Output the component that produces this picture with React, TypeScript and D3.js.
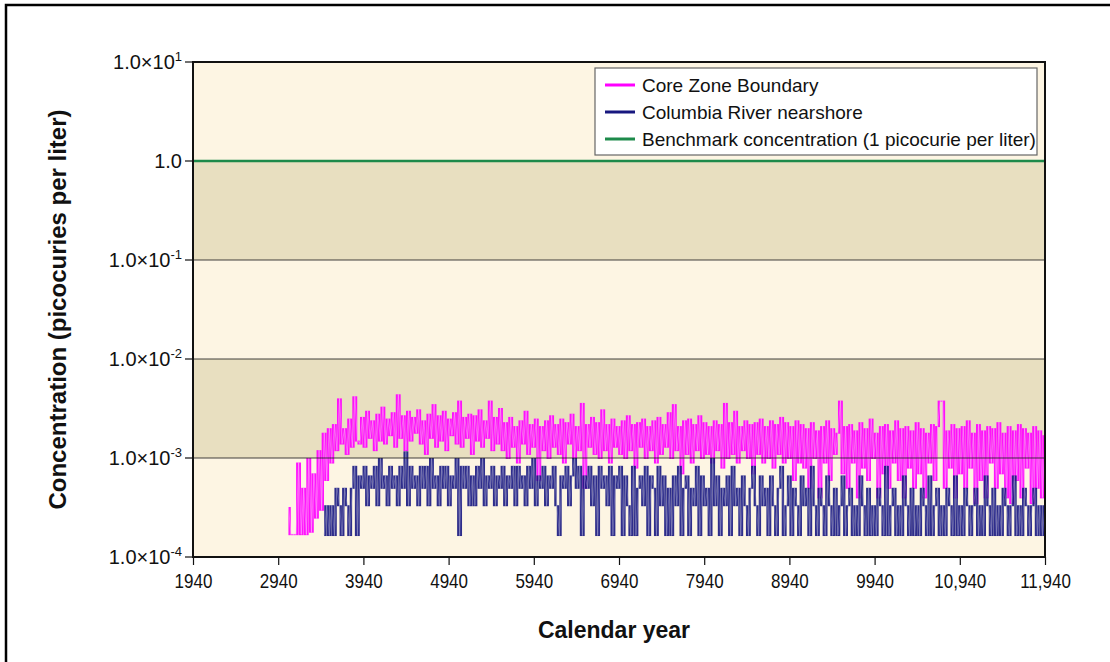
import { useEffect, useRef } from 'react'
import * as d3 from 'd3'

const W = 1110
const H = 662

// y axis (log) ticks and labels: [mantissa text, exponent]
const yTicks = [1e-4, 1e-3, 1e-2, 1e-1, 1, 10]
const yTickLabels = [
  ['1.0×10', '-4'],
  ['1.0×10', '-3'],
  ['1.0×10', '-2'],
  ['1.0×10', '-1'],
  ['1.0', ''],
  ['1.0×10', '1'],
]
const bandEdges = [1e-4, 1e-3, 1e-2, 1e-1, 1, 10]
const gridValues = [1e-3, 1e-2, 1e-1]
const benchmark = 1

const xTicks = [1940, 2940, 3940, 4940, 5940, 6940, 7940, 8940, 9940, 10940, 11940]
const xTickLabels = ['1940', '2940', '3940', '4940', '5940', '6940', '7940', '8940', '9940', '10,940', '11,940']

const seriesNames = [
  'Core Zone Boundary',
  'Columbia River nearshore',
  'Benchmark concentration (1 picocurie per liter)',
]

// Core Zone Boundary, sampled every 30 years from 3060, in units of 1e-4 pCi/L
const coreStart = 3060
const coreStep = 30
const coreValues = [
  3.2, 1.7, 1.7, 1.7, 9, 1.7, 5, 1.7, 10, 1.8, 7, 2.5, 12, 3, 18, 6, 20,
  9, 22, 12, 40, 14, 20, 11, 25, 13, 42, 15,
  14, 26, 13, 30, 16, 24, 12, 28, 15, 33, 14, 25, 17, 29, 13, 44, 16, 27, 12, 30,
  15, 26, 18, 31, 14, 24, 11, 28, 16, 35, 13, 27, 15, 30, 12, 25, 17, 29, 14, 38,
  13, 26, 16, 28, 11, 27, 15, 31, 13, 24, 16, 38, 12, 26, 14, 32,
  12, 23, 10, 26, 13, 21, 9, 24, 14, 30, 11, 22, 13, 25, 6, 21, 12, 24, 10, 27,
  13, 22, 11, 25, 9, 23, 14, 28, 10, 21, 12, 36, 5, 22, 13, 26, 11, 23, 10, 31,
  12, 22, 9, 25, 13, 21, 11, 24, 10, 27, 12, 22, 8, 23, 13, 25, 10, 21, 12, 24,
  9, 26, 11, 22, 13, 29, 10, 35, 12, 21, 7, 24, 11, 25, 9, 22, 12, 27, 10, 23,
  11, 21, 9, 24, 12, 22, 8, 36, 10, 23, 11, 30, 9, 21, 12, 24, 10, 22, 7, 23,
  11, 25, 9, 21, 10, 24, 8, 22, 11, 26, 9, 23, 10, 21, 6, 24, 9,
  22, 8, 20, 5, 23, 10, 19, 4, 21, 9, 24, 6, 20, 11, 18, 38, 7, 21, 5, 22,
  9, 19, 4, 23, 8, 20, 6, 25, 10, 18, 4, 21, 7, 22, 5, 19, 9, 24, 6, 20,
  4, 21, 8, 19, 5, 23, 7, 20, 4, 18, 9, 22, 6, 21, 38, 38, 5, 19, 8, 22,
  4, 20, 7, 21, 5, 24, 8, 18, 3.5, 22, 6, 19, 4, 21, 9, 20, 5, 23, 7, 18,
  4, 21, 3.5, 19, 6, 22, 4, 20, 8, 18, 3.5, 21, 5, 19, 4, 17,
]

// Columbia River nearshore, sampled every 30 years from 3480,
// in reporting steps of 1/6000 pCi/L
const riverStart = 3480
const riverStep = 30
const riverUnit = 1 / 6000
const riverLevels = [
  1, 2, 1, 2, 1, 3, 2, 1, 3, 2, 1, 3, 5, 1, 4,
  3, 5, 2, 4, 3, 5, 2, 6, 3, 4, 2, 5, 3, 4, 2, 5, 3, 7, 2, 5,
  3, 4, 2, 5, 3, 5, 2, 6, 3, 4, 2, 5, 3, 5, 2, 4, 3, 6, 1, 5,
  3, 5, 2, 4, 2, 5, 3, 6, 2, 4, 3, 5, 2, 4, 3, 5, 2, 4, 3, 5,
  2, 5, 3, 4, 2, 5, 3, 6, 2, 4, 3, 5, 2, 4, 3, 5, 2, 1, 4, 3,
  5, 2, 4, 6, 3, 5, 1, 4, 3, 5, 2, 4, 1, 5, 3, 4, 2, 5, 1, 4,
  3, 5, 1, 4, 2, 1, 5, 1, 3, 4, 2, 5, 1, 4, 3, 1, 5, 2, 4, 1,
  3, 1, 4, 2, 5, 1, 3, 4, 1, 3, 2, 5, 1, 4, 2, 3, 1, 6, 2, 4,
  1, 3, 2, 4, 1, 5, 2, 3, 1, 4, 2, 1, 3, 5, 2, 1, 4, 2, 3, 1,
  4, 2, 1, 3, 5, 1, 2, 4, 1, 3, 2, 1, 4, 2, 3, 1, 5, 2, 1, 3,
  2, 1, 4, 2, 1, 3, 1, 2, 4, 1, 2, 3, 1, 2, 1, 4, 2, 1, 3, 1,
  2, 1, 3, 2, 1, 5, 1, 2, 3, 1, 2, 1, 4, 2, 1, 3, 1, 2, 1, 3,
  2, 1, 4, 1, 2, 3, 1, 2, 1, 3, 2, 1, 4, 1, 2, 1, 3, 2, 1, 2,
  3, 1, 2, 1, 4, 2, 1, 3, 1, 2, 1, 3, 2, 1, 2, 4, 1, 2, 1, 3,
  2, 1, 2, 3, 1, 2, 1, 2,
]

const FONT = "'Liberation Sans', Arial, Helvetica, sans-serif"
const CREAM = '#fdf5e3'
const TAN = '#e8dfc0'
const MAGENTA = '#ff00ff'
const NAVY = '#17177f'
const GREEN = '#1d8a4a'

export default function App() {
  const svgRef = useRef<SVGSVGElement>(null)

  useEffect(() => {
    if (!svgRef.current) return
    const svg = d3.select(svgRef.current)
    svg.selectAll('*').remove()

    const margin = { top: 62, right: 65, bottom: 105, left: 193 }
    const x = d3.scaleLinear().domain([1940, 11940]).range([margin.left, W - margin.right])
    const y = d3.scaleLog().domain([1e-4, 10]).range([H - margin.bottom, margin.top])
    const [x0, x1] = x.range()
    const [yb, yt] = y.range()

    // outer page frame
    svg.append('rect')
      .attr('x', 6).attr('y', 5)
      .attr('width', W + 40).attr('height', H + 40)
      .attr('fill', 'none').attr('stroke', '#000').attr('stroke-width', 2.5)

    svg.append('defs').append('clipPath').attr('id', 'plot-clip')
      .append('rect')
      .attr('x', x0).attr('y', yt).attr('width', x1 - x0).attr('height', yb - yt)

    // alternating decade bands
    svg.append('g').selectAll('rect')
      .data(d3.pairs(bandEdges))
      .enter()
      .append('rect')
      .attr('x', x0)
      .attr('y', d => y(d[1]))
      .attr('width', x1 - x0)
      .attr('height', d => y(d[0]) - y(d[1]))
      .attr('fill', (_, i) => (i % 2 === 0 ? CREAM : TAN))

    const plot = svg.append('g').attr('clip-path', 'url(#plot-clip)')

    // dense series: the range swept between consecutive samples is shaded,
    // then the sample line is drawn over it in a paler tint for texture
    const drawSeries = (
      values: number[], start: number, step: number, unit: number,
      color: string, tint: string, fillOpacity: number
    ) => {
      const t = (i: number) => start + i * step
      const colW = (x(start + step) - x(start)) * 0.92
      plot.append('g').selectAll('rect')
        .data(d3.pairs(values))
        .enter()
        .append('rect')
        .attr('x', (_, i) => x(t(i)))
        .attr('width', colW)
        .attr('y', d => y(Math.max(d[0], d[1]) * unit))
        .attr('height', d => Math.abs(y(d[0] * unit) - y(d[1] * unit)) + 1)
        .attr('fill', color)
        .attr('fill-opacity', fillOpacity)

      const line = d3.line<number>()
        .x((_, i) => x(t(i)))
        .y(d => y(d * unit))
      plot.append('path')
        .datum(values)
        .attr('d', line)
        .attr('fill', 'none')
        .attr('stroke', tint)
        .attr('stroke-width', 0.6)
        .attr('stroke-opacity', 0.8)
    }

    drawSeries(coreValues, coreStart, coreStep, 1e-4, MAGENTA, '#ffa6ff', 0.92)
    drawSeries(riverLevels, riverStart, riverStep, riverUnit, NAVY, '#8c8cc8', 0.9)

    // decade grid lines
    svg.append('g').selectAll('line')
      .data(gridValues)
      .enter()
      .append('line')
      .attr('x1', x0).attr('x2', x1)
      .attr('y1', d => y(d)).attr('y2', d => y(d))
      .attr('stroke', '#222').attr('stroke-width', 1)
      .attr('stroke-opacity', 0.85)

    // benchmark
    svg.append('line')
      .attr('x1', x0).attr('x2', x1)
      .attr('y1', y(benchmark)).attr('y2', y(benchmark))
      .attr('stroke', GREEN).attr('stroke-width', 2.5)

    // plot frame
    svg.append('rect')
      .attr('x', x0).attr('y', yt)
      .attr('width', x1 - x0).attr('height', yb - yt)
      .attr('fill', 'none').attr('stroke', '#111').attr('stroke-width', 2)

    // y ticks and labels
    const yAxis = svg.append('g')
    yAxis.selectAll('line')
      .data(yTicks)
      .enter()
      .append('line')
      .attr('x1', x0 - 8).attr('x2', x0)
      .attr('y1', d => y(d)).attr('y2', d => y(d))
      .attr('stroke', '#111').attr('stroke-width', 1.2)

    const yLabel = yAxis.selectAll('text')
      .data(yTicks)
      .enter()
      .append('text')
      .attr('x', x0 - 11)
      .attr('y', d => y(d) + 7)
      .attr('text-anchor', 'end')
      .attr('font-family', FONT)
      .attr('font-size', 20)
      .attr('fill', '#111')
    yLabel.append('tspan').text((_, i) => yTickLabels[i][0])
    yLabel.append('tspan')
      .attr('dy', -8)
      .attr('font-size', 13)
      .text((_, i) => yTickLabels[i][1])

    // x axis
    const xAxis = d3.axisBottom(x)
      .tickValues(xTicks)
      .tickSize(8)
      .tickFormat((_, i) => xTickLabels[i])
    const gx = svg.append('g')
      .attr('transform', `translate(0,${yb})`)
      .call(xAxis as any)
    gx.select('.domain').remove()
    gx.selectAll('line').attr('stroke', '#111').attr('stroke-width', 1.2)
    gx.selectAll('text')
      .attr('y', 17)
      .attr('fill', '#111')
      .attr('font-family', FONT)
      .attr('font-size', 20)
      .attr('transform', 'scale(0.85,1)')

    // axis titles
    svg.append('text')
      .attr('transform', `translate(66,${(yt + yb) / 2}) rotate(-90)`)
      .attr('text-anchor', 'middle')
      .attr('font-family', FONT)
      .attr('font-weight', 'bold')
      .attr('font-size', 24)
      .attr('fill', '#111')
      .text('Concentration (picocuries per liter)')

    svg.append('text')
      .attr('x', 614)
      .attr('y', 638)
      .attr('text-anchor', 'middle')
      .attr('font-family', FONT)
      .attr('font-weight', 'bold')
      .attr('font-size', 23)
      .attr('fill', '#111')
      .text('Calendar year')

    // legend
    const legend = svg.append('g').attr('transform', 'translate(595,68)')
    legend.append('rect')
      .attr('width', 442).attr('height', 87)
      .attr('fill', '#fff').attr('stroke', '#666').attr('stroke-width', 1.2)
    const colors = [MAGENTA, NAVY, GREEN]
    const rows = legend.selectAll('g.row')
      .data(seriesNames)
      .enter()
      .append('g')
      .attr('class', 'row')
      .attr('transform', (_, i) => `translate(0,${17 + i * 27})`)
    rows.append('line')
      .attr('x1', 10).attr('x2', 40)
      .attr('stroke', (_, i) => colors[i]).attr('stroke-width', 3)
    rows.append('text')
      .attr('x', 47).attr('y', 7)
      .attr('font-family', FONT)
      .attr('font-size', 19)
      .attr('fill', '#111')
      .text(d => d)
  }, [])

  return (
    <svg
      ref={svgRef}
      width={W}
      height={H}
      style={{ position: 'absolute', left: 0, top: 0, background: '#fff' }}
    />
  )
}
